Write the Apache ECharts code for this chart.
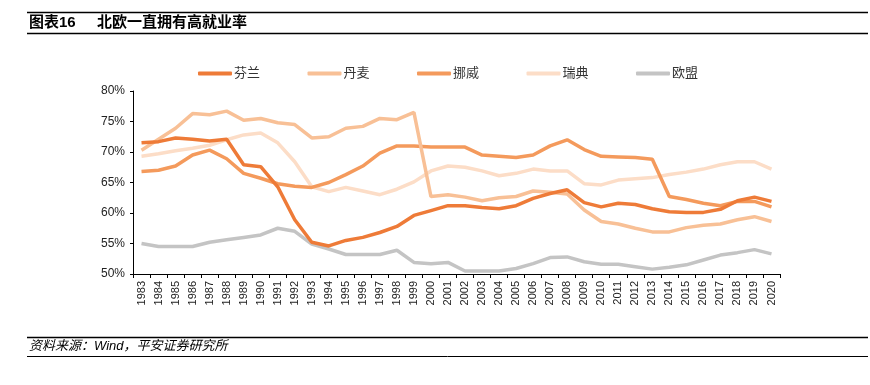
<!DOCTYPE html>
<html><head><meta charset="utf-8">
<script src="https://cdn.jsdelivr.net/npm/echarts@6/dist/echarts.min.js"></script>
<style>html,body{margin:0;padding:0;background:#fff}#c{width:870px;height:385px}</style>
</head><body><div id="c"></div>
<script>
const years = ['1983','1984','1985','1986','1987','1988','1989','1990','1991','1992','1993','1994','1995','1996','1997','1998','1999','2000','2001','2002','2003','2004','2005','2006','2007','2008','2009','2010','2011','2012','2013','2014','2015','2016','2017','2018','2019','2020'];
const finland = [71.5,71.7,72.3,72.1,71.8,72.1,67.9,67.6,64.3,58.9,55.2,54.6,55.5,56.0,56.8,57.8,59.6,60.4,61.2,61.2,60.9,60.7,61.2,62.4,63.2,63.8,61.7,61.0,61.6,61.4,60.7,60.2,60.1,60.1,60.6,62.0,62.6,61.9];
const denmark = [70.3,72.1,73.9,76.3,76.1,76.7,75.2,75.5,74.8,74.5,72.3,72.5,73.9,74.2,75.5,75.3,76.5,62.7,63.0,62.6,62.0,62.5,62.7,63.6,63.4,63.1,60.5,58.6,58.2,57.5,56.9,56.9,57.6,58.0,58.2,58.9,59.4,58.6];
const norway = [66.8,67.0,67.7,69.5,70.3,68.9,66.5,65.7,64.8,64.4,64.2,65.0,66.3,67.7,69.8,71.0,71.0,70.8,70.8,70.8,69.5,69.3,69.1,69.5,71.0,72.0,70.4,69.3,69.2,69.1,68.8,62.7,62.2,61.6,61.2,61.9,61.9,61.0];
const sweden = [69.3,69.7,70.2,70.6,71.1,72.0,72.8,73.1,71.5,68.4,64.3,63.5,64.2,63.6,63.0,63.9,65.1,66.9,67.7,67.5,66.9,66.1,66.5,67.2,66.9,66.9,64.8,64.6,65.4,65.6,65.8,66.3,66.7,67.2,67.9,68.4,68.4,67.2];
const eu = [55.0,54.5,54.5,54.5,55.2,55.6,56.0,56.4,57.5,57.0,54.9,54.1,53.2,53.2,53.2,53.9,51.9,51.7,51.9,50.5,50.5,50.5,50.9,51.7,52.7,52.8,52.0,51.6,51.6,51.2,50.8,51.1,51.5,52.3,53.1,53.5,54.0,53.3];
const seriesNames = ['芬兰','丹麦','挪威','瑞典','欧盟'];
const yTicks = [50,55,60,65,70,75,80];

const colors = ['#EE7B38','#F8C096','#F49A5C','#FCDDC7','#C4C4C4'];
const cjk = '"Liberation Sans","Noto Sans CJK SC",sans-serif';
const chart = echarts.init(document.getElementById('c'));
const dataArr = [finland, denmark, norway, sweden, eu];
const series = seriesNames.map((n,i)=>({
  name:n, type:'line', data:dataArr[i], symbol:'none', smooth:false,
  lineStyle:{width:3.5,color:colors[i]}, itemStyle:{color:colors[i]}, z: 10 - i
}));
chart.setOption({
  animation:false,
  textStyle:{fontFamily:cjk},
  color:colors,
  legend:{
    data:seriesNames, left:193, top:62, itemWidth:34, itemHeight:4, itemGap:47.5,
    icon:'roundRect',
    textStyle:{fontSize:13,color:'#333',fontFamily:cjk, padding:[0,0,0,-3]}
  },
  grid:{left:133,right:90,top:91,bottom:111,containLabel:false},
  xAxis:{
    type:'category', data:years, boundaryGap:true,
    axisLine:{lineStyle:{color:'#000',width:1}},
    axisTick:{show:true,alignWithLabel:false,length:4,lineStyle:{color:'#000'}},
    axisLabel:{rotate:90,fontSize:11,color:'#222',interval:0,margin:7,fontFamily:'"Liberation Sans",sans-serif'}
  },
  yAxis:{
    type:'value', min:50, max:80, interval:5,
    axisLine:{show:true,lineStyle:{color:'#000',width:1}},
    axisTick:{show:true,length:3,lineStyle:{color:'#000'}},
    splitLine:{show:false},
    axisLabel:{formatter:v=>v+'%',fontSize:12,color:'#222',margin:8,fontFamily:'"Liberation Sans",sans-serif'}
  },
  series:series,
  graphic:[
    {type:'line',shape:{x1:27,y1:12.5,x2:868,y2:12.5},style:{stroke:'#000',lineWidth:1.5}},
    {type:'line',shape:{x1:27,y1:33.5,x2:868,y2:33.5},style:{stroke:'#000',lineWidth:1.5}},
    {type:'text',left:29,top:15,style:{text:'图表16',fontSize:15,fontWeight:'bold',fill:'#000',fontFamily:cjk}},
    {type:'text',left:97,top:15,style:{text:'北欧一直拥有高就业率',fontSize:15,fontWeight:'bold',fill:'#000',fontFamily:cjk}},
    {type:'line',shape:{x1:27,y1:337.5,x2:868,y2:337.5},style:{stroke:'#000',lineWidth:1.5}},
    {type:'line',shape:{x1:27,y1:356.5,x2:868,y2:356.5},style:{stroke:'#000',lineWidth:1}},
    {type:'text',left:29,top:340,style:{text:'资料来源：Wind，平安证券研究所',fontSize:13,fontStyle:'italic',fill:'#000',fontFamily:cjk}}
  ]
});
</script></body></html>
